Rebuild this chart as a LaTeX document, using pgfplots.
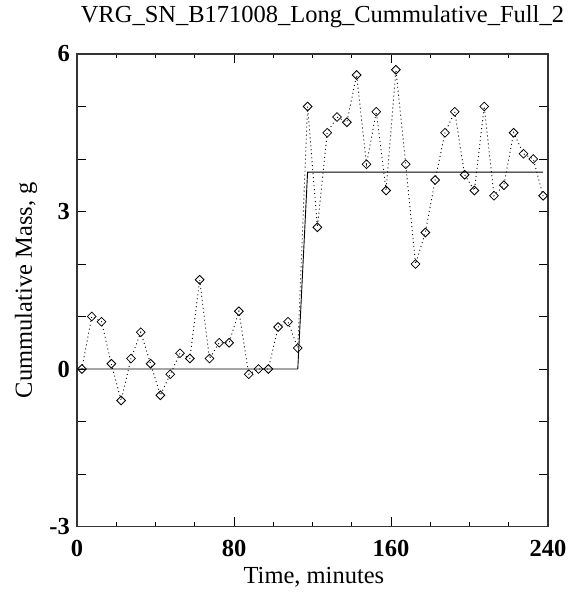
\documentclass[border=0pt]{standalone}
\usepackage{fontspec}
\setmainfont{Liberation Serif}
\usepackage{pgfplots}
\pgfplotsset{compat=1.18}

\begin{document}
\begin{tikzpicture}
\useasboundingbox (-77pt,-66.5pt) rectangle (501pt,526.5pt);
\begin{axis}[
  scale only axis,
  width=471pt, height=472.5pt,
  xmin=0, xmax=240, ymin=-3, ymax=6,
  xtick={0,80,160,240},
  xticklabels={0,80,160,240},
  minor xtick={20,40,60,100,120,140,180,200,220},
  ytick={-3,-2,-1,0,1,2,3,4,5,6},
  yticklabels={-3,,,0,,,3,,,6},
  tick align=inside,
  major tick length=9.3pt,
  minor tick length=4.5pt,
  every tick/.style={black, line width=0.9pt},
  axis line style={black!80, line width=1.3pt},
  ticklabel style={font=\fontsize{24.5}{28}\selectfont\bfseries, inner sep=0pt},
  xticklabel style={anchor=base, yshift=-30.5pt},
  yticklabel style={anchor=east, xshift=-7pt},
  xlabel={Time, minutes},
  ylabel={Cummulative Mass, g},
  label style={font=\fontsize{24.5}{28}\selectfont},
  xlabel style={at={(axis description cs:0.503,-0.1196)}, anchor=base, inner sep=0pt},
  ylabel style={at={(axis description cs:-0.108,0.5)}, anchor=center, inner sep=0pt},
  title={VRG\_SN\_B171008\_Long\_Cummulative\_Full\_2},
  title style={font=\fontsize{24.5}{28}\selectfont, at={(axis description cs:0.521,1.055)}, anchor=base, inner sep=0pt},
]
\addplot[black, line width=0.9pt, dash pattern=on 1pt off 3pt,
  mark=square, mark size=3.1pt,
  mark options={solid, rotate=45, line width=0.8pt, fill=white}] coordinates {
(2.5,0.0) (7.5,1.0) (12.5,0.9) (17.5,0.1) (22.5,-0.6) (27.5,0.2)
(32.5,0.7) (37.5,0.1) (42.5,-0.5) (47.5,-0.1) (52.5,0.3) (57.5,0.2)
(62.5,1.7) (67.5,0.2) (72.5,0.5) (77.5,0.5) (82.5,1.1) (87.5,-0.1)
(92.5,0.0) (97.5,0.0) (102.5,0.8) (107.5,0.9) (112.5,0.4) (117.5,5.0)
(122.5,2.7) (127.5,4.5) (132.5,4.8) (137.5,4.7) (142.5,5.6) (147.5,3.9)
(152.5,4.9) (157.5,3.4) (162.5,5.7) (167.5,3.9) (172.5,2.0) (177.5,2.6)
(182.5,3.6) (187.5,4.5) (192.5,4.9) (197.5,3.7) (202.5,3.4) (207.5,5.0)
(212.5,3.3) (217.5,3.5) (222.5,4.5) (227.5,4.1) (232.5,4.0) (237.5,3.3)
};
\addplot[black, line width=0.9pt, mark=none] coordinates {
(0,0) (112.5,0) (117.5,3.75) (237.5,3.75)
};
\end{axis}
\end{tikzpicture}
\end{document}
